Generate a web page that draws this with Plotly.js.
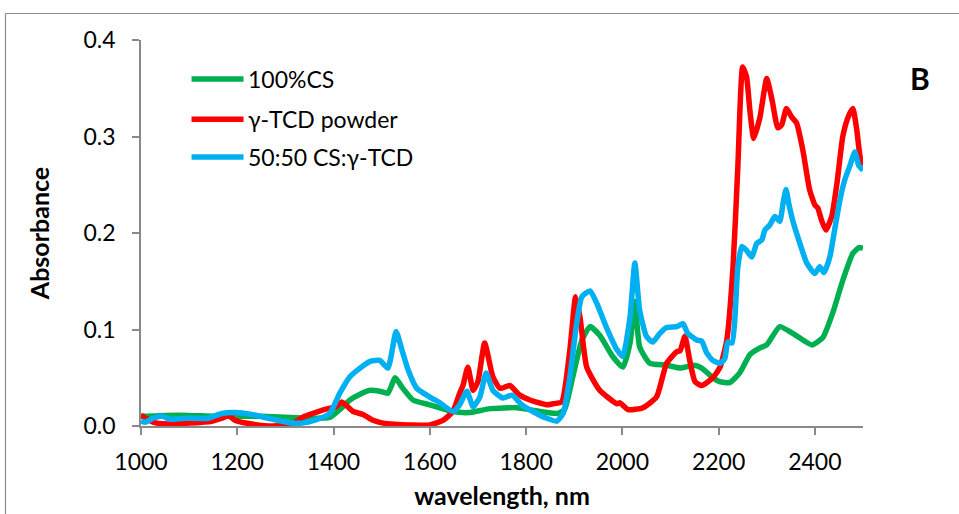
<!DOCTYPE html>
<html>
<head>
<meta charset="utf-8">
<script src="https://cdn.plot.ly/plotly-3.0.1.min.js"></script>
<style>
  html, body { margin: 0; padding: 0; background: #fff; }
  #chart { width: 959px; height: 514px; }
</style>
</head>
<body>
<div id="chart"></div>
<script>
// NIR absorbance spectra, panel B
const seriesNames = ['100%CS', 'γ-TCD powder', '50:50 CS:γ-TCD'];
const seriesColors = ['#00B050', '#FF0000', '#00B0F0'];

// 100% CS
const csWl = [1000, 1050, 1100, 1150, 1200, 1250, 1300, 1350, 1392, 1415, 1434, 1455, 1476, 1496, 1513, 1528, 1544, 1565, 1600, 1648, 1683, 1725, 1781, 1808, 1843, 1865, 1880, 1897, 1916, 1933, 1953, 1980, 2001, 2016, 2026, 2036, 2057, 2092, 2120, 2150, 2165, 2188, 2202, 2223, 2244, 2265, 2286, 2300, 2327, 2354, 2394, 2417, 2437, 2458, 2479, 2492, 2500];
const csAbs = [0.010, 0.011, 0.011, 0.010, 0.010, 0.010, 0.009, 0.008, 0.009, 0.018, 0.027, 0.033, 0.037, 0.036, 0.034, 0.050, 0.039, 0.027, 0.022, 0.015, 0.014, 0.018, 0.019, 0.017, 0.014, 0.013, 0.017, 0.051, 0.089, 0.103, 0.094, 0.072, 0.061, 0.086, 0.129, 0.082, 0.065, 0.063, 0.060, 0.063, 0.060, 0.050, 0.046, 0.045, 0.055, 0.074, 0.081, 0.084, 0.103, 0.096, 0.084, 0.092, 0.117, 0.151, 0.179, 0.185, 0.184];

// γ-TCD powder
const tcdWl = [1000, 1010, 1025, 1056, 1100, 1147, 1168, 1181, 1195, 1230, 1264, 1300, 1320, 1340, 1368, 1388, 1405, 1417, 1441, 1461, 1482, 1503, 1565, 1600, 1628, 1648, 1662, 1669, 1679, 1690, 1700, 1714, 1731, 1746, 1766, 1787, 1808, 1843, 1856, 1874, 1891, 1903, 1912, 1926, 1953, 1989, 1995, 2012, 2043, 2071, 2092, 2113, 2120, 2130, 2140, 2151, 2165, 2188, 2203, 2217, 2230, 2240, 2250, 2258, 2265, 2273, 2286, 2300, 2311, 2323, 2331, 2341, 2352, 2362, 2375, 2389, 2400, 2406, 2414, 2423, 2435, 2446, 2458, 2469, 2479, 2487, 2494, 2500];
const tcdAbs = [0.011, 0.008, 0.004, 0.002, 0.003, 0.005, 0.008, 0.011, 0.006, 0.002, 0.000, 0.001, 0.004, 0.010, 0.015, 0.018, 0.020, 0.025, 0.015, 0.012, 0.006, 0.003, 0.001, 0.001, 0.006, 0.015, 0.034, 0.042, 0.061, 0.037, 0.046, 0.086, 0.051, 0.039, 0.042, 0.032, 0.027, 0.022, 0.023, 0.025, 0.079, 0.134, 0.113, 0.061, 0.037, 0.023, 0.024, 0.017, 0.019, 0.030, 0.065, 0.077, 0.078, 0.093, 0.068, 0.046, 0.042, 0.050, 0.061, 0.089, 0.165, 0.269, 0.372, 0.362, 0.327, 0.298, 0.320, 0.360, 0.338, 0.309, 0.312, 0.329, 0.320, 0.314, 0.286, 0.245, 0.229, 0.226, 0.213, 0.203, 0.217, 0.252, 0.300, 0.320, 0.329, 0.307, 0.279, 0.270];

// 50:50 CS:γ-TCD
const mixWl = [1000, 1010, 1025, 1044, 1060, 1091, 1139, 1168, 1195, 1230, 1264, 1314, 1334, 1361, 1392, 1413, 1434, 1455, 1476, 1496, 1513, 1530, 1542, 1555, 1573, 1600, 1621, 1648, 1662, 1677, 1690, 1704, 1717, 1731, 1752, 1771, 1791, 1814, 1843, 1864, 1877, 1891, 1905, 1916, 1933, 1947, 1968, 1989, 2001, 2016, 2026, 2036, 2050, 2063, 2078, 2092, 2113, 2126, 2136, 2155, 2165, 2175, 2188, 2203, 2213, 2219, 2228, 2234, 2240, 2248, 2258, 2269, 2279, 2290, 2296, 2306, 2317, 2327, 2334, 2340, 2346, 2354, 2369, 2383, 2400, 2410, 2419, 2431, 2441, 2452, 2462, 2473, 2483, 2491, 2500];
const mixAbs = [0.005, 0.004, 0.008, 0.010, 0.007, 0.008, 0.008, 0.013, 0.014, 0.012, 0.008, 0.003, 0.003, 0.006, 0.013, 0.034, 0.051, 0.060, 0.067, 0.068, 0.060, 0.098, 0.079, 0.058, 0.039, 0.030, 0.024, 0.015, 0.022, 0.036, 0.020, 0.030, 0.055, 0.037, 0.029, 0.032, 0.022, 0.015, 0.008, 0.005, 0.013, 0.051, 0.106, 0.134, 0.140, 0.127, 0.101, 0.079, 0.072, 0.113, 0.169, 0.120, 0.093, 0.087, 0.096, 0.102, 0.103, 0.106, 0.096, 0.089, 0.088, 0.076, 0.068, 0.065, 0.070, 0.087, 0.086, 0.113, 0.165, 0.186, 0.182, 0.175, 0.189, 0.193, 0.203, 0.208, 0.217, 0.212, 0.231, 0.245, 0.230, 0.213, 0.189, 0.169, 0.158, 0.165, 0.159, 0.175, 0.203, 0.234, 0.255, 0.270, 0.284, 0.270, 0.265];

const xTicks = [1000, 1200, 1400, 1600, 1800, 2000, 2200, 2400];
const yTicks = [0.0, 0.1, 0.2, 0.3, 0.4];

const FONT = 'Lato, Carlito, "Liberation Sans", sans-serif';
const AXIS_GRAY = '#898989';
const LINE_W = 5.5;

const xs = [csWl, tcdWl, mixWl];
const ys = [csAbs, tcdAbs, mixAbs];

const traces = seriesNames.map((name, i) => ({
  type: 'scatter',
  mode: 'lines',
  name: name,
  x: xs[i],
  y: ys[i],
  line: { color: seriesColors[i], width: LINE_W, shape: 'spline', smoothing: 0.5 },
  showlegend: false,
  hoverinfo: 'x+y+name'
}));

// hand-placed legend: sample line + label per series
const legendRows = [0.899, 0.795, 0.697];
const shapes = [];
const annotations = [];
seriesNames.forEach((name, i) => {
  shapes.push({
    type: 'line', xref: 'paper', yref: 'paper',
    x0: 0.070, x1: 0.142, y0: legendRows[i], y1: legendRows[i],
    line: { color: seriesColors[i], width: LINE_W }
  });
  annotations.push({
    xref: 'paper', yref: 'paper', x: 0.146, y: legendRows[i],
    xanchor: 'left', yanchor: 'middle', showarrow: false,
    text: name, font: { family: FONT, size: 23, color: '#000' }
  });
});

// panel letter
annotations.push({
  xref: 'paper', yref: 'paper', x: 1.079, y: 0.902,
  xanchor: 'center', yanchor: 'middle', showarrow: false,
  text: '<b>B</b>', font: { family: FONT, size: 30, color: '#000' }
});

// chart-area frame (top and left edges)
shapes.push({
  type: 'line', xref: 'paper', yref: 'paper', layer: 'below',
  x0: -0.1877, x1: 1.2, y0: 1.0687, y1: 1.0687,
  line: { color: '#8c8c8c', width: 1.2 }
});
shapes.push({
  type: 'line', xref: 'paper', yref: 'paper', layer: 'below',
  x0: -0.1877, x1: -0.1877, y0: 1.0687, y1: -0.3,
  line: { color: '#8c8c8c', width: 1.2 }
});

const layout = {
  width: 959,
  height: 514,
  margin: { l: 141, r: 96, t: 40, b: 88, pad: 0 },
  paper_bgcolor: '#fff',
  plot_bgcolor: '#fff',
  font: { family: FONT, size: 23, color: '#000' },
  showlegend: false,
  xaxis: {
    range: [1000, 2500],
    tickvals: xTicks,
    ticktext: xTicks.map(String),
    ticks: 'outside', ticklen: 7, tickwidth: 1.5, tickcolor: AXIS_GRAY,
    ticklabelstandoff: 8,
    showline: true, linecolor: AXIS_GRAY, linewidth: 1.5,
    showgrid: false, zeroline: false,
    tickfont: { family: FONT, size: 23, color: '#000' },
    automargin: false,
    title: { text: '<b>wavelength, nm</b>', font: { family: FONT, size: 25, color: '#000' }, standoff: 13 }
  },
  yaxis: {
    range: [0, 0.4],
    tickvals: yTicks,
    ticktext: yTicks.map(v => v.toFixed(1)),
    ticks: 'outside', ticklen: 7, tickwidth: 1.5, tickcolor: AXIS_GRAY,
    ticklabelstandoff: 12,
    showline: true, linecolor: AXIS_GRAY, linewidth: 1.5,
    showgrid: false, zeroline: false,
    tickfont: { family: FONT, size: 23, color: '#000' },
    automargin: false,
    title: { text: '<b>Absorbance</b>', font: { family: FONT, size: 25, color: '#000' }, standoff: 27 }
  },
  shapes: shapes,
  annotations: annotations
};

Plotly.newPlot('chart', traces, layout, { displayModeBar: false });
</script>
</body>
</html>
